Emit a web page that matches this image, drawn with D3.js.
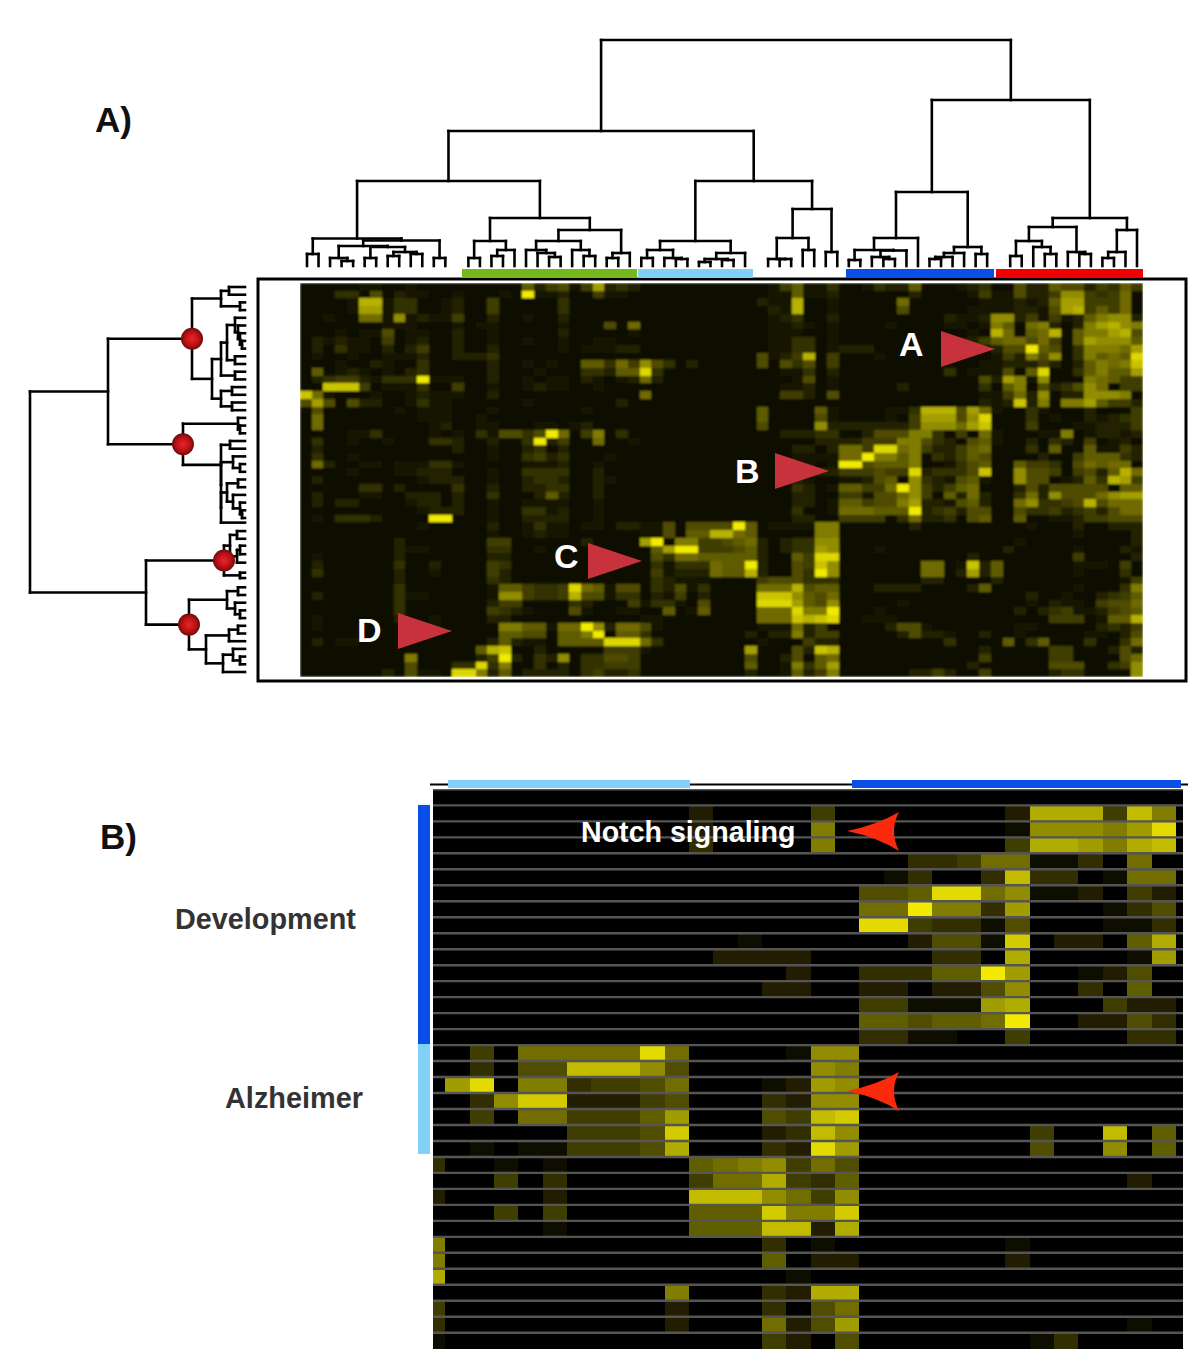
<!DOCTYPE html>
<html lang="en">
    <head>
        <meta charset="utf-8">
        <title>Heatmap panels</title>
        <script src="https://d3js.org/d3.v7.min.js"></script>
        <style>
            body { margin: 0; background: #fff; }
            text { font-family: "Liberation Sans", Arial, sans-serif; font-weight: bold; }
        </style>
    </head>
    <body>
        <div id="chart"></div>
        <script type="text/javascript">
            // panel A intensities, one hex digit per cell (0 = black, f = full yellow)
            var heatA = [
                "111112211211 110011173562 5b3430011111 111125722411 243371112341 163376635475",
                "111441613221 1211121f2231 152211111111 111122722311 111131111252 26335aa54581",
                "11112cc24411 231151111141 111111111111 111322c11211 111811111122 23237bb55581",
                "11112bb24411 231151111141 111111111111 111132c11211 111611111222 23326bc57581",
                "11211882a232 251131121131 111111111111 111123411311 11111113223a a35252379aa3",
                "111111122211 121221111121 116181111111 111122321211 112111122129 71893139bca9",
                "111212261221 131121111131 111121111111 111122211211 11111111121c 8178c1799bc6",
                "132322151231 131121121121 122111111111 111122441211 111111112357 8868517baaa7",
                "131422131351 131131111121 222331111111 111122441233 311111111113 66f76149998b",
                "121121122231 133341111111 111111111111 1116235c1511 121111111112 5396a149787e",
                "001211321141 100131021211 77485a641310 111616461500 101100011122 33353137989d",
                "171232121341 111131112111 44377e411111 111112241311 111111141222 617e1147977b",
                "1345532444f2 221131121221 321238311111 111111261211 111111111163 b92a11198755",
                "11ddd5122241 151121123221 121111111111 111112231211 111311111141 7916346a8155",
                "d82111211232 221131111111 111118111111 111115531611 111111111122 583a133aaa91",
                "6b6163311242 211111121111 111311111111 111111111111 111111111132 3d39199b7553",
                "161111112122 211121111111 211111111111 111711117211 11224ccc6b82 114211131115",
                "181111111122 211211111111 111111111111 111711116211 11215bbb6ae1 114121132345",
                "181111111112 311221112212 311111111111 11161111a333 33335aaa8bd1 115111223335",
                "111122411112 121426646f81 591411111111 111113334410 366699405182 111229123323",
                "141121121114 43113114f351 181121111111 111111113333 555996431672 113143151231",
                "131111111111 131121134131 111111111111 111111331388 5ee895335781 114171172253",
                "141121111111 111121145341 112111111111 111111222288 f99791435761 111311577743",
                "183112212224 421111122231 121111111111 1111112212ff 677791124671 175541687881",
                "111121112233 311121144441 131111111111 111113423355 5655e34446d1 1a66515637c8",
                "131111111123 331121134431 132111111111 111111321122 3671a4326721 1a6612374cb5",
                "111114413111 141131133441 131111111111 111111431277 558fa5357811 136366666177",
                "031112211333 130041113731 131000011111 111111331155 2668a5173831 1483a6668abb",
                "131331111233 131121122221 121111111111 111111331277 5669b3326731 18a4456c6888",
                "111111111123 331121144231 121111111111 111111411288 8777f3453661 164453453688",
                "12144431111f f11121133331 121111111111 111111331155 550483340671 171122355666",
                "111111111121 111131124221 221332261666 6f7122229911 111131111111 112111311333",
                "111111111111 111121123221 11111226177c c87111119911 111111111111 111111211113",
                "111111113111 111155111111 31111bf19955 67831344aa11 111111111111 121111111113",
                "111111113221 111144112111 1111117bff55 56731344ba11 121111111111 311111211132",
                "121111113111 111133111111 111111648877 77731175ee11 111111111311 111111511113",
                "131111114113 111154111111 111111424448 77f31165da11 111118812d37 111111222151",
                "141111113112 111153111111 111111523338 77c31164fa11 111118813b37 111111211141",
                "111111113111 111143111111 111111432221 111566644411 111113311113 111111111125",
                "000000004100 00002775445e 872661436241 111888c67711 133331111371 111111211149",
                "131111114221 11112aa5445c 662441325131 111ddda76811 111111111111 113112113457",
                "111111114111 111135511114 311152442161 111eeeb76a11 111211111111 112132215668",
                "111111114111 111154321116 211221171271 111888e99f11 121111111111 131345223567",
                "121111113112 111133111111 111112211111 111888dcde11 222111111111 11115551277c",
                "121111111112 111119977288 fa3886211111 111222835011 113662111111 122111113435",
                "111111111111 111117766177 9f1774111111 113033935511 111363321131 121111122136",
                "131221111111 111137322177 77eee8411111 111211053311 111111141111 714711141148",
                "111111111111 1117cd113111 115552111111 11b11163dc11 111111111131 111155111363",
                "111111111911 11135f3143a1 446651111111 116113607811 111111111151 111155111168",
                "000000010611 144e49114131 445551111111 117102947b00 011111111311 11116661145a",
                "111111131622 1ee937133331 453341111111 113112735911 111133531151 11113441100a"
            ];

            // panel B intensities, same coding
            var heatB = [
                "00000000 00000000 00000000 00000000",
                "00000000 00020000 40000000 2bbb4c80",
                "00000000 00020000 80000000 19998ae0",
                "00000000 00030000 80000000 4bba8bc0",
                "00000000 00000000 00003347 71130700",
                "00000000 00000000 00013003 c3301770",
                "00000000 00000000 00556ee7 91120420",
                "00000000 00000000 0077f883 a0001350",
                "00000000 00000000 00ee4331 50001130",
                "00000000 00000100 00002551 d02206b0",
                "00000000 00002222 00000330 b00001a0",
                "00000000 00000002 0033366f a0012500",
                "00000000 00000022 00220225 90030600",
                "00000000 00000000 0044111a b0004220",
                "00000000 00000000 00665667 f0022530",
                "00000000 00000000 00331100 40000330",
                "00407777 7e700001 99000000 00000000",
                "003055cc c9500000 98000000 00000000",
                "0ae08834 45700012 a9000000 00000000",
                "0039dd22 24500032 99000000 00000000",
                "00407744 46a00054 cd000000 00000000",
                "00000044 45d00023 c9000000 0400c060",
                "00101144 45b00032 ea000000 05009060",
                "30010100 00067894 75000000 00000000",
                "00040300 000477b4 36000000 00000200",
                "20000200 000ccc97 49000000 00000000",
                "00040400 000666d8 8d000000 00000000",
                "00000100 000666cc 2b000000 00000000",
                "80000000 00000030 10000000 10000000",
                "80000000 00000060 22000000 20000000",
                "b0000000 00000001 00000000 00000000",
                "00000000 00800032 bb000000 00000000",
                "40000000 00200030 57000000 00000000",
                "30000000 00200072 5a000000 00000100",
                "10000000 00000042 05000000 01300000"
            ];

            // trees: [merge distance, child, child], a bare number is a leaf slot
            var c1 = [27.5, [12, 0, 1], [25.5, [20, [8, 2, [5, 3, 4]], [19, [8, 5, 6], [14, [10, 7, 8], [12, 9, 10]]]], [8, 11, 12]]];
            var c2 = [48, [25, [8, 14, 15], [16, [10, 16, 17], 18]], [36, [25, [16, 19, [13, 20, [9, 21, 22]]], [16, 23, [10, 24, 25]]], [13, [8, 26, 27], 28]]];
            var c3 = [25, [16, [8, 29, 30], [8, 31, [7, 32, 33]]], [13, [7, [4, 34, 35], [6, 36, 37]], 38]];
            var c4 = [57, [28, [7, 40, [7, 41, 42]], [16, 43, 44]], [14, 45, 46]];
            var c5 = [74, [28, [16, [6, 47, 48], [15.5, [9, 49, [7, 50, 51]], 52]], 53], [19, [13, [9, [7, 54, 55], 56], 57], [12, 58, 59]]];
            var c6 = [48, [39, [25, [10, 61, 62], [19, 63, [12, 64, 65]]], [14, 66, [12, 67, 68]]], [36, [14, [8, 69, 70], 71], 72]];
            var topTree = [226, [135, [85, c1, c2], [85, c3, c4]], [166, c5, c6]];

            var r1 = [53, [24, [16, 0, 1], [5, 2, 3]], [33, [24, [18, [10, 4, [7, 5, [5, 6, [3, 7, 8]]]], [10, 9, 10]], [10, 11, 12]], [24, [13, 13, 14], [13, 15, 16]]]];
            var r2 = [62, [7, 17, [5, 18, 19]], [24, [15, 20, 21], [24, [12, 22, [5, 23, 24]], [24, [18, [7, 25, 26], [12, 27, [5, 28, [3, 29, 30]]]], 30.6]]]];
            var r3 = [21, [15, [8, 31.7, 32.7], [8, [5, 33.6, 34.7], 35.8]], [5, 37.1, 37.8]];
            var r4 = [56, [18, [7, 39, 40], [10, 41, [5, 42, 43]]], [39, [16, [7, 44, 45], 46], [22, [12, 47, [5, 48, 49]], 50]]];
            var leftTree = [215, [137, r1, r2], [99, r3, r4]];
            var ballHeights = [53, 62, 21, 56];

            var topBars = [
                {from: 462, to: 637, color: "#74b81e"},
                {from: 638, to: 753, color: "#80d0f8"},
                {from: 846, to: 994, color: "#0a4ee8"},
                {from: 996, to: 1143, color: "#f00000"}
            ];
            var panelBTopBars = [
                {from: 448, to: 690, color: "#80d0f8"},
                {from: 852, to: 1181, color: "#0a4ee8"}
            ];
            var panelBSideBars = [
                {from: 805, to: 1044, color: "#0a4ee8"},
                {from: 1044, to: 1154, color: "#80d0f8"}
            ];

            var pointersA = [
                {label: "A", x: 941, y: 349, lx: 899, ly: 356},
                {label: "B", x: 775, y: 471, lx: 735, ly: 483},
                {label: "C", x: 588, y: 561, lx: 554, ly: 568},
                {label: "D", x: 398, y: 631, lx: 357, ly: 642}
            ];
            var arrowsB = [{x: 847, y: 831}, {x: 847, y: 1091}];

            var svg = d3.select("#chart").append("svg").attr("width", 1200).attr("height", 1364);
            svg.append("rect").attr("width", 1200).attr("height", 1364).attr("fill", "#fff");

            var defs = svg.append("defs");
            var grad = defs.append("radialGradient").attr("id", "ball");
            grad.append("stop").attr("offset", "0%").attr("stop-color", "#e8262a");
            grad.append("stop").attr("offset", "65%").attr("stop-color", "#b81014");
            grad.append("stop").attr("offset", "100%").attr("stop-color", "#6a0c0c");
            defs.append("clipPath").attr("id", "clipB").append("rect")
                .attr("x", 433).attr("y", 789).attr("width", 750).attr("height", 560);
            defs.append("clipPath").attr("id", "clipA").append("rect")
                .attr("x", 300).attr("y", 283).attr("width", 843).attr("height", 394);
            // the cells in the picture are soft, not crisp
            defs.append("filter").attr("id", "softA").append("feGaussianBlur").attr("stdDeviation", 0.8);
            defs.append("filter").attr("id", "softB").append("feGaussianBlur").attr("stdDeviation", 0.5);

            var yellow = d3.interpolateRgb("#000000", "#f2ea00");
            var levelB = d3.scaleLinear().domain([0, 15]).range([0, 1]);
            var levelA = d3.scalePow().exponent(1.3).domain([0, 15]).range([0.03, 1]);

            function parseRows(rows) {
                return rows.map(r => r.replace(/ /g, "").split("").map(ch => parseInt(ch, 16)));
            }

            function drawHeat(g, rows, x, y, level) {
                rows.forEach((row, i) => {
                    g.selectAll(null).data(row).enter().append("rect")
                        .attr("x", (d, j) => x(j))
                        .attr("y", y(i))
                        .attr("width", x.bandwidth())
                        .attr("height", y.bandwidth())
                        .attr("fill", d => yellow(level(d)))
                        .attr("shape-rendering", "crispEdges");
                });
            }

            // panel A frame and heatmap
            svg.append("rect").attr("x", 258).attr("y", 279).attr("width", 928).attr("height", 402)
                .attr("fill", "#fff").attr("stroke", "#000").attr("stroke-width", 3);

            var rowsA = parseRows(heatA);
            var xA = d3.scaleBand().domain(d3.range(72)).range([300, 1143]);
            var yA = d3.scaleBand().domain(d3.range(51)).range([283, 677]);
            var gA = svg.append("g").attr("clip-path", "url(#clipA)").append("g").attr("filter", "url(#softA)");
            drawHeat(gA, rowsA, xA, yA, levelA);

            // dendrograms, stems sit midway between the children
            function layout(node, leafPos, dist, segs, nodes) {
                if (typeof node === "number") return {p: leafPos(node), d: 0};
                var a = layout(node[1], leafPos, dist, segs, nodes);
                var b = layout(node[2], leafPos, dist, segs, nodes);
                segs.push([a.p, dist(a.d), a.p, dist(node[0])]);
                segs.push([a.p, dist(node[0]), b.p, dist(node[0])]);
                segs.push([b.p, dist(b.d), b.p, dist(node[0])]);
                var me = {p: (a.p + b.p) / 2, d: node[0]};
                nodes.push(me);
                return me;
            }

            var topLeaf = d3.scaleLinear().domain([0, 72]).range([307, 1137]);
            var topDist = d3.scaleLinear().domain([0, 226]).range([266, 40]);
            var topSegs = [];
            layout(topTree, topLeaf, topDist, topSegs, []);
            svg.append("g").selectAll("line").data(topSegs).enter().append("line")
                .attr("x1", d => d[0]).attr("y1", d => d[1]).attr("x2", d => d[2]).attr("y2", d => d[3])
                .attr("stroke", "#000").attr("stroke-width", 2.6).attr("stroke-linecap", "square");

            var leftLeaf = d3.scaleLinear().domain([0, 50]).range([287, 672]);
            var leftDist = d3.scaleLinear().domain([0, 215]).range([245, 30]);
            var leftSegs = [], leftNodes = [];
            layout(leftTree, leftLeaf, leftDist, leftSegs, leftNodes);
            svg.append("g").selectAll("line").data(leftSegs).enter().append("line")
                .attr("x1", d => d[1]).attr("y1", d => d[0]).attr("x2", d => d[3]).attr("y2", d => d[2])
                .attr("stroke", "#000").attr("stroke-width", 2.6).attr("stroke-linecap", "square");

            svg.append("g").selectAll("circle")
                .data(leftNodes.filter(n => ballHeights.includes(n.d))).enter().append("circle")
                .attr("cx", d => leftDist(d.d)).attr("cy", d => d.p).attr("r", 11)
                .attr("fill", "url(#ball)");

            svg.append("g").selectAll("rect").data(topBars).enter().append("rect")
                .attr("x", d => d.from).attr("y", 269).attr("width", d => d.to - d.from).attr("height", 9)
                .attr("fill", d => d.color);

            // red pointers with their letters
            svg.append("g").selectAll("path").data(pointersA).enter().append("path")
                .attr("d", d => `M${d.x},${d.y - 18}L${d.x + 54},${d.y}L${d.x},${d.y + 18}Z`)
                .attr("fill", "#c8323c");
            svg.append("g").selectAll("text").data(pointersA).enter().append("text")
                .attr("x", d => d.lx).attr("y", d => d.ly)
                .attr("font-size", 34).attr("fill", "#fff").text(d => d.label);

            // panel B
            svg.append("line").attr("x1", 430).attr("x2", 1188).attr("y1", 784.5).attr("y2", 784.5)
                .attr("stroke", "#000").attr("stroke-width", 2);

            var rowsB = parseRows(heatB);
            var xB = d3.scaleBand().domain(d3.range(32)).range([421, 1200.2]);
            var yB = d3.scaleBand().domain(d3.range(35)).range([789.4, 1348.7]);

            svg.append("rect").attr("x", 433).attr("y", 789).attr("width", 750).attr("height", 560).attr("fill", "#000");
            var gB = svg.append("g").attr("clip-path", "url(#clipB)").append("g").attr("filter", "url(#softB)");
            drawHeat(gB, rowsB, xB, yB, levelB);
            gB.selectAll("line").data(d3.range(35)).enter().append("line")
                .attr("x1", 433).attr("x2", 1183)
                .attr("y1", d => yB(d)).attr("y2", d => yB(d))
                .attr("stroke", "#555555").attr("stroke-width", 2.4);

            svg.append("g").selectAll("rect").data(panelBTopBars).enter().append("rect")
                .attr("x", d => d.from).attr("y", 780).attr("width", d => d.to - d.from).attr("height", 8)
                .attr("fill", d => d.color);
            svg.append("g").selectAll("rect").data(panelBSideBars).enter().append("rect")
                .attr("x", 418).attr("y", d => d.from).attr("width", 12).attr("height", d => d.to - d.from)
                .attr("fill", d => d.color);

            svg.append("g").selectAll("path").data(arrowsB).enter().append("path")
                .attr("d", d => `M${d.x},${d.y}Q${d.x + 30},${d.y - 6} ${d.x + 52},${d.y - 19}Q${d.x + 42},${d.y} ${d.x + 52},${d.y + 20}Q${d.x + 30},${d.y + 6} ${d.x},${d.y}Z`)
                .attr("fill", "#fb2a0c");

            // labels
            svg.append("text").attr("x", 95).attr("y", 132).attr("font-size", 35).attr("fill", "#111").text("A)");
            svg.append("text").attr("x", 100).attr("y", 849).attr("font-size", 35).attr("fill", "#111").text("B)");
            svg.append("text").attr("x", 175).attr("y", 929).attr("font-size", 28.8).attr("fill", "#333").text("Development");
            svg.append("text").attr("x", 225).attr("y", 1108).attr("font-size", 28.9).attr("fill", "#333").text("Alzheimer");
            svg.append("text").attr("x", 581).attr("y", 842).attr("font-size", 28.6).attr("fill", "#fff").text("Notch signaling");
        </script>
    </body>
</html>
